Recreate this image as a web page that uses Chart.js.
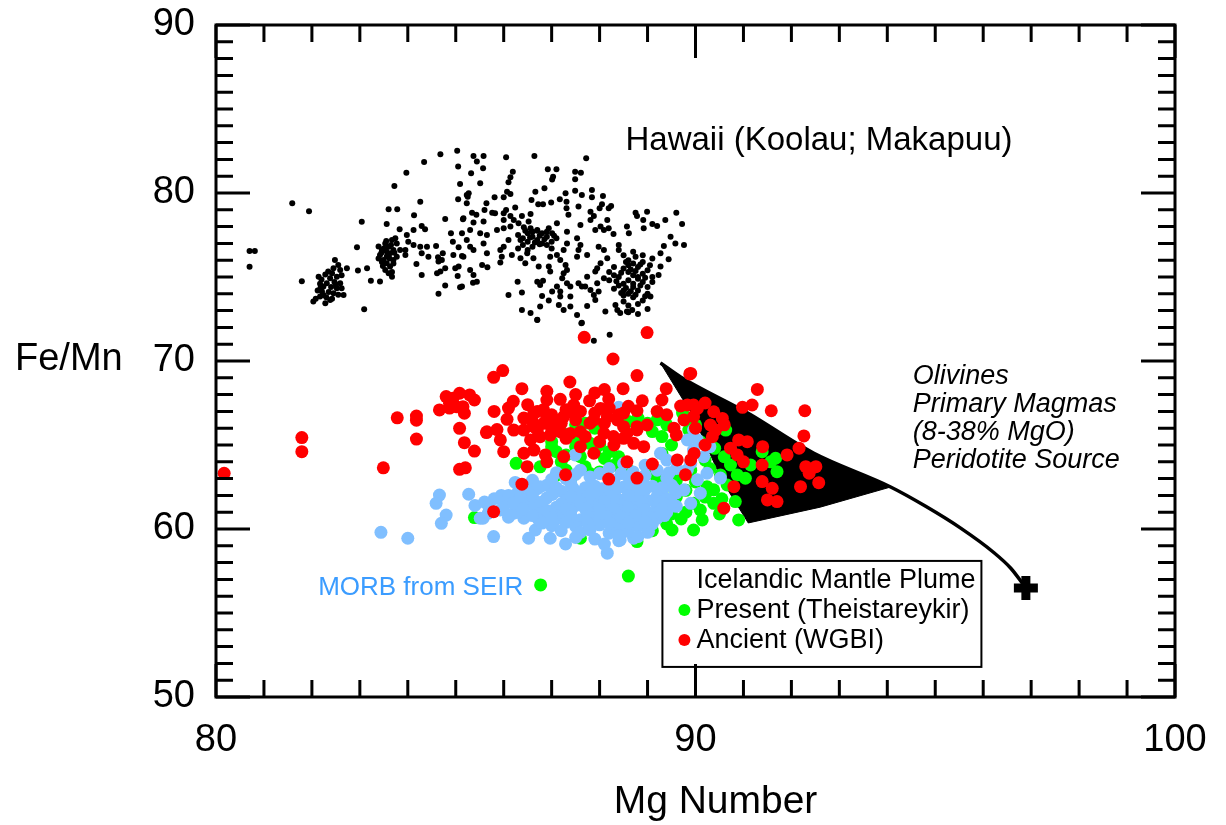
<!DOCTYPE html>
<html>
<head>
<meta charset="utf-8">
<script src="https://cdn.jsdelivr.net/npm/chart.js@4.4.1/dist/chart.umd.min.js"></script>
<style>
  html, body { margin: 0; padding: 0; background: #fff; }
  #wrap { width: 1226px; height: 825px; }
</style>
</head>
<body>
<div id="wrap"><canvas id="chart" width="1226" height="825"></canvas></div>
<script>
// axis ranges / labels
const xRange = [80, 100];
const yRange = [50, 90];
const xTitle = 'Mg Number';
const yTitle = 'Fe/Mn';

// Hawaii (Koolau; Makapuu) olivines  [Mg number, Fe/Mn]
const hawaii = [
  [80.70,76.55],[80.81,76.55],[80.70,75.61],[81.59,79.39],[81.94,78.91],[81.79,74.75],
  [83.04,78.29],[82.94,76.77],[82.96,75.38],[83.15,75.52],[83.09,73.08],[83.23,74.77],[83.42,74.73],[83.67,75.01],
  [83.72,80.42],[83.97,81.21],[84.34,81.84],[84.68,82.30],[85.03,82.52],[85.05,81.57],[85.09,80.54],[85.05,79.63],
  [84.26,79.48],[83.60,79.03],[83.78,79.03],[84.13,78.67],[83.56,78.15],[83.83,77.84],[84.12,77.80],[84.29,78.04],[84.36,77.84],
  [83.98,77.50],[84.01,77.10],[84.12,76.90],[84.26,76.80],[84.40,76.80],[84.29,76.41],[84.43,76.21],[83.95,76.31],[83.95,76.61],
  [84.18,75.77],[84.29,75.12],[84.59,76.85],[84.78,78.45],[84.90,77.60],[84.94,77.10],[85.06,76.77],[84.73,76.41],[84.63,76.17],
  [84.95,76.31],[85.13,76.25],[84.71,76.01],[84.64,75.92],[84.61,75.23],[84.68,75.32],[84.78,75.52],[84.99,75.52],[85.06,75.62],
  [84.78,74.49],[84.64,74.00],[85.09,74.39],[85.04,75.06],[85.15,78.44],[85.23,79.88],[85.23,79.39],
  [82.03,73.54],[82.17,73.84],[82.21,74.14],[82.24,74.44],[82.31,74.63],[82.38,74.93],[82.42,75.23],[82.45,75.52],[82.48,76.01],
  [82.55,75.72],[82.59,75.42],[82.52,75.02],[82.59,74.63],[82.62,74.33],[82.66,73.93],[82.38,73.63],[82.28,73.44],[82.14,75.02],
  [82.34,75.32],[82.24,73.93],[82.45,74.03],[82.52,74.33],[82.73,75.52],[82.12,74.20],[82.17,74.60],[82.40,74.40],[82.47,74.70],
  [82.30,73.80],[82.55,73.95],[82.20,74.85],[82.35,74.10],[82.50,74.55],[82.28,75.15],[82.42,73.70],[82.62,75.10],[82.08,73.70],
  [82.18,74.35],
  [83.39,76.81],[83.46,76.61],[83.53,77.00],[83.60,76.80],[83.67,77.20],[83.74,77.30],[83.77,77.00],[83.70,76.61],[83.63,76.41],
  [83.56,76.21],[83.49,76.01],[83.42,76.31],[83.56,75.82],[83.63,75.62],[83.53,75.42],[83.70,76.01],[83.77,76.21],[83.84,76.61],
  [83.46,75.90],[83.60,75.23],[83.39,76.10],[83.67,75.30],[83.45,76.45],[83.55,76.55],[83.65,76.90],[83.50,76.70],[83.58,76.35],
  [83.72,76.45],[83.62,76.10],[83.48,75.65],[83.70,75.80],[83.55,77.15],
  [85.37,82.20],[85.58,82.20],[85.44,81.87],[85.57,81.47],[86.05,82.13],[86.64,82.20],[87.72,82.07],[85.32,81.18],[85.51,80.58],
  [86.19,81.27],[86.14,80.94],[86.10,80.64],[86.92,81.41],[87.10,81.41],[87.03,80.97],[87.01,80.81],[87.49,81.27],[87.61,81.21],
  [87.49,80.82],[86.85,80.28],[86.66,80.08],[86.07,80.08],[86.14,79.94],[86.00,79.74],[85.81,79.74],[85.64,79.39],[85.25,79.78],
  [85.27,79.98],[86.58,79.58],[86.72,79.33],[86.82,79.33],[86.99,79.43],[87.17,79.63],[87.29,79.98],[87.31,79.48],[87.49,80.14],
  [87.63,79.88],[87.84,80.18],[87.84,79.74],[88.07,79.82],[87.56,79.19],[87.31,79.09],[87.35,78.70],[87.81,78.89],[88.00,79.09],
  [88.05,79.33],[88.19,79.09],[88.24,79.23],[85.60,78.99],[85.76,78.83],[85.82,78.79],[85.34,78.83],[85.43,78.70],[86.00,78.79],
  [86.05,78.99],[86.14,78.63],[86.24,79.13],[86.38,78.63],[86.56,78.75],[85.16,78.50],[85.37,78.24],[85.58,78.30],[86.00,78.39],
  [86.21,78.39],[85.13,77.60],[85.30,77.80],[85.51,77.60],[85.65,77.50],[85.86,77.80],[86.00,77.90],[86.14,78.00],[86.31,78.20],
  [86.42,77.96],[86.52,78.30],[86.56,77.90],[86.70,77.76],[86.94,77.90],[87.11,78.20],[87.01,77.60],[87.32,77.70],[87.60,78.10],
  [87.81,78.39],[87.88,78.63],[88.02,78.00],[88.16,78.39],[88.19,77.90],[87.91,77.80],[88.09,77.80],[88.29,77.56],[87.53,77.30],
  [87.60,76.90],[87.32,77.00],[87.25,76.61],[85.23,77.20],[85.30,76.80],[85.37,76.61],[85.16,76.21],[85.65,76.41],[85.58,77.00],
  [85.93,76.61],[86.00,76.80],[86.10,77.20],[86.17,76.31],[85.96,76.21],[85.93,75.86],[86.35,76.12],[86.49,76.41],[86.62,76.12],
  [86.45,75.82],[86.97,76.21],[87.11,76.31],[87.18,76.01],[86.94,75.62],[87.29,75.72],[87.32,75.42],[87.53,76.21],[87.74,76.31],
  [87.56,76.61],[85.55,75.72],[85.66,75.58],[85.30,75.42],[85.37,75.12],[85.44,74.72],[85.36,74.66],[85.13,74.43],[86.73,75.62],
  [86.97,75.32],[87.25,75.23],[86.29,74.72],[86.38,74.07],[86.10,73.93],[86.70,74.72],[86.76,74.53],[86.82,74.78],[87.22,74.93],
  [87.32,74.63],[87.39,74.43],[87.11,74.43],[87.56,74.63],[87.63,74.43],[87.74,75.02],[87.70,74.43],[87.81,74.23],[86.80,73.87],
  [87.01,74.13],[87.18,74.13],[87.18,73.84],[86.94,73.60],[87.15,73.34],[87.39,73.84],[87.39,73.24],[86.76,73.24],[86.38,73.04],
  [86.56,72.85],[86.70,72.45],[87.25,73.04],[87.53,72.74],[87.63,72.28],[87.74,73.28],[87.91,73.63],[87.88,73.93],[87.98,74.13],
  [87.95,74.63],[88.09,74.93],[87.91,75.32],[87.95,75.52],[88.02,75.82],[88.16,76.12],[88.09,76.61],[87.98,76.80],[88.12,72.94],
  [88.75,78.83],[88.78,78.63],[88.99,78.89],[88.91,78.39],[88.92,77.90],[89.10,78.15],[89.20,78.04],[88.57,78.00],[88.61,77.60],
  [89.37,78.39],[89.60,78.83],[89.72,78.15],[89.48,77.40],[89.58,77.00],[89.76,76.90],[89.34,76.85],[89.27,76.41],[89.44,76.06],
  [89.27,75.62],[89.23,75.12],[89.06,73.84],[88.50,73.54],[88.68,73.04],[88.57,72.94],[88.43,72.85],[88.37,73.04],[88.33,73.34],
  [86.70,72.44],[87.62,72.24],[87.88,71.20],[88.21,71.56],
  [88.40,76.60],[88.50,76.30],[88.60,76.00],[88.70,75.80],[88.80,75.60],[88.50,75.50],[88.60,75.30],[88.70,75.10],[88.80,74.90],
  [88.90,74.70],[88.60,74.80],[88.50,74.60],[88.70,74.40],[88.80,74.20],[88.60,74.00],[88.70,73.80],[88.90,73.60],[88.50,73.90],
  [88.40,75.00],[88.30,75.60],[88.90,75.90],[89.00,75.40],[89.10,75.00],[89.00,74.40],[88.80,73.40],[88.60,73.30],[88.90,76.30],
  [88.40,76.90],[88.30,74.30],[88.60,72.90],[88.80,72.80],[89.00,73.10],[88.50,74.20],[88.70,76.50],[89.10,76.10],[88.30,75.10],
  [88.90,75.20],[88.60,75.70],[88.80,75.00],[88.70,74.60],[89.00,74.00],[89.10,74.70],[88.40,74.50],[88.20,75.30],[88.20,74.80],
  [88.55,74.35],[88.75,73.95],[88.85,74.50],[88.65,75.45],[88.45,75.25],[88.95,74.95],[88.75,75.35],[88.55,75.90],[88.85,75.75],
  [88.35,74.75],[88.65,74.15],[88.95,73.85],[88.45,74.05],[89.05,75.70],[88.75,76.20],
  [86.30,77.50],[86.40,77.30],[86.50,77.10],[86.60,77.40],[86.70,77.20],[86.80,77.00],[86.90,76.90],[86.60,76.80],[86.50,76.60],
  [86.80,77.60],[86.70,77.80],[86.90,77.40],[87.00,77.10],[86.40,76.90],[86.30,76.70],[87.00,76.70],[86.60,77.70],[86.50,77.60],
  [86.90,77.70],[87.10,77.30],[86.35,77.20],[86.55,77.35],[86.75,77.45],[86.65,77.05],[86.85,77.25],[87.05,77.45],[86.45,77.75],
  [86.75,76.95]
];

// Icelandic plume, present (Theistareykir)
const present = [
  [86.26,63.91],[86.76,63.70],[85.39,60.68],[86.77,56.67],[88.60,57.20],[88.78,59.25],[87.60,59.45],[89.51,59.94],[89.96,59.94],
  [90.14,60.54],[90.90,60.54],[90.63,65.89],[91.39,64.60],[91.67,64.21],[91.70,63.41],[91.57,64.00],[91.15,63.81],[91.04,63.02],
  [90.83,61.63],[90.55,61.80],[89.83,66.58],[89.86,65.89],[89.73,66.90],[90.00,66.20],[90.38,62.33],[90.24,62.52],[90.10,61.13],
  [89.96,61.53],[90.38,61.53],[90.73,63.81],[90.52,63.22],[90.66,62.62],[90.87,63.22],
  [87.00,65.20],[87.10,64.60],[87.20,64.00],[87.30,63.50],[87.40,65.50],[87.50,64.90],[87.60,64.30],[87.70,63.70],[87.80,65.10],
  [87.90,64.60],[87.20,65.80],[87.50,66.20],[87.70,66.30],[87.90,66.00],[87.10,63.20],[87.40,63.00],[88.10,64.20],[88.30,63.80],
  [88.00,63.40],[88.60,66.40],[88.80,66.60],[89.00,66.30],[89.20,66.50],[89.40,66.20],[89.10,65.80],[89.30,65.50],
  [89.40,61.50],[89.60,61.90],[89.80,62.30],[89.50,60.90],[89.70,60.60],[90.00,62.80],[89.90,63.50],[90.20,64.10],[90.40,64.80],
  [90.10,65.20],[89.60,62.90],[89.30,62.20],[89.20,60.80],[88.90,60.30],[89.10,59.90],
  [87.30,64.40],[87.00,64.90],[87.60,65.30],[88.00,65.00],[88.20,64.60],[88.40,64.30],[87.80,63.30],[88.60,63.50],[89.00,63.30],
  [89.30,64.50],[89.50,65.00],[89.20,63.00],[90.30,63.60],[90.60,64.30],[90.20,61.90],[89.80,61.00],[89.40,60.30],[90.50,60.90]
];

// Icelandic plume, ancient (WGBI)
const ancient = [
  [80.17,63.32],[81.79,65.44],[81.79,64.60],[83.49,63.64],[83.78,66.62],[84.18,66.72],[84.18,66.48],[84.18,65.35],
  [84.80,67.88],[84.94,67.78],[85.08,68.08],[85.29,67.98],[85.39,67.68],[84.87,67.48],[85.01,67.28],[85.15,67.28],[84.66,67.09],
  [84.87,67.20],[85.18,66.89],[85.08,65.99],[85.18,65.14],[85.39,64.64],[85.08,63.55],[85.20,63.64],[85.64,65.74],
  [87.68,71.41],[88.99,71.69],[88.28,70.12],[85.79,69.03],[85.98,69.43],[86.38,68.35],[87.38,68.75],[88.78,69.13],[89.88,69.23],
  [88.49,68.35],[89.39,68.35],[89.30,67.68],[86.90,67.68],[87.18,67.72],[87.46,67.38],[87.79,67.63],[88.19,67.74],[88.89,67.63],
  [88.02,67.18],[88.78,67.04],[89.69,67.32],[89.96,67.38],[86.07,66.53],[85.65,65.79],[85.86,65.92],[86.21,65.89],[85.93,65.30],
  [86.00,64.60],[86.42,66.60],[86.63,66.90],[86.83,67.10],[86.42,65.89],[86.63,66.09],[86.83,66.29],[87.04,66.49],[87.25,66.69],
  [87.46,66.90],[86.56,65.30],[86.76,65.49],[86.97,65.59],[87.18,65.79],[87.39,65.69],[87.60,65.79],[86.42,64.51],[86.63,64.70],
  [86.87,64.41],[86.49,63.71],[86.90,64.00],[87.88,66.49],[88.16,66.69],[88.37,66.49],[88.50,66.09],[88.09,65.70],[88.29,65.50],
  [88.57,65.70],[88.78,65.90],[88.71,65.10],[88.92,64.90],[87.88,64.51],[88.57,64.00],[89.10,63.87],[87.29,63.23],[88.19,62.97],
  [88.78,63.03],[86.38,62.67],[85.79,61.03],[89.62,64.11],[89.90,64.11],[89.79,63.23],[89.55,66.00],[89.76,66.49],[89.96,66.69],
  [88.78,66.09],[88.99,66.19],[87.25,64.31],[87.60,64.90],[89.90,69.26],[91.29,68.31],[90.98,67.24],[91.18,67.38],[91.58,67.04],
  [92.28,67.04],[89.83,67.38],[90.04,67.18],[90.38,66.98],[90.56,66.58],[90.31,66.19],[90.35,65.49],[90.42,65.89],[90.90,65.30],
  [91.08,65.20],[90.73,64.81],[90.87,64.41],[92.26,65.54],[91.91,64.41],[92.16,64.81],[92.30,63.71],[92.51,63.71],[92.37,63.32],
  [92.57,62.76],[92.19,62.52],[91.39,63.81],[91.39,62.82],[91.60,62.42],[91.50,61.73],[91.70,61.63],[90.80,62.52],[90.59,61.24],
  [89.97,64.50],
  [86.50,67.40],[86.70,67.00],[87.00,66.80],[87.30,67.10],[87.60,67.00],[87.90,66.90],[88.20,67.20],[88.50,66.90],[88.60,67.30],
  [86.60,66.40],[86.90,66.60],[87.20,66.30],[87.50,66.50],[87.80,66.30],[88.10,66.30],[88.40,66.80],[86.70,65.90],[87.00,66.00],
  [87.30,65.40],[87.70,65.50],[88.00,65.20],[88.30,65.00],[88.50,65.40],[87.50,68.00],[87.90,68.10],[88.10,68.30],[86.90,68.20],
  [86.20,67.60],[85.80,67.00],[86.10,67.20],[89.40,66.80],[89.60,65.60],[90.00,66.00],[90.20,67.50],[89.20,67.00],[90.60,66.20],
  [90.20,65.00],[91.40,64.90],[91.00,64.00]
];

// MORB from SEIR
const morb = [
  [84.66,62.02],[84.59,61.53],[84.80,60.83],[84.70,60.34],[85.27,62.07],[83.44,59.80],[84.00,59.45],[85.57,60.64],[88.40,67.24],
  [86.24,62.77],[85.79,59.55],[86.52,59.45],[86.97,59.45],[87.29,59.11],[88.16,58.56],[88.43,59.35],[88.71,59.45],[89.02,59.85],
  [87.49,64.41],[85.51,60.64],[85.68,60.94],[85.93,61.13],[86.21,60.94],[86.66,59.94],[86.42,60.64],[86.73,60.54],[86.90,60.94],
  [86.76,62.52],[86.56,62.13],[87.04,62.13],[89.96,65.89],[89.83,65.30],[89.27,64.51],[90.04,65.30],[89.96,64.70],[90.17,64.30],
  [90.52,63.03],[90.24,63.32],[89.83,63.52],[90.04,62.93],[89.76,62.33],[90.10,62.13],[89.90,61.53],
  [87.60,63.50],[88.20,63.60],[88.70,63.40],[89.20,63.50],[87.30,63.00],[87.80,63.10],[88.30,62.90],[88.60,63.10],[88.90,62.95],
  [89.40,63.05],[86.90,62.60],[87.40,62.70],[87.90,62.55],[88.20,62.65],[88.50,62.50],[88.80,62.70],[89.10,62.55],[89.50,62.60],
  [86.30,62.20],[87.20,62.25],[87.60,62.10],[87.90,62.30],[88.30,62.15],[88.60,62.25],[88.90,62.10],[89.30,62.20],[89.60,62.15],
  [85.80,61.80],[86.40,61.75],[86.90,61.85],[87.30,61.70],[87.70,61.80],[88.00,61.90],[88.40,61.75],[88.70,61.85],[89.00,61.70],
  [89.40,61.80],[85.40,61.40],[86.00,61.35],[86.60,61.45],[87.10,61.30],[87.50,61.40],[87.90,61.50],[88.20,61.35],[88.50,61.45],
  [88.80,61.30],[89.20,61.40],[89.60,61.35],[86.30,61.00],[87.00,60.95],[87.40,61.05],[87.80,60.90],[88.10,61.00],[88.40,60.95],
  [88.70,61.10],[89.10,60.90],[89.40,61.00],[87.10,60.60],[87.60,60.55],[87.90,60.65],[88.30,60.50],[88.60,60.60],[88.90,60.55],
  [89.20,60.65],[87.00,60.20],[87.50,60.15],[88.00,60.25],[88.40,60.10],[88.80,60.20],[89.10,60.30],[87.60,59.80],[88.20,59.75],
  [88.60,59.85],[89.00,59.80],[87.90,59.40],[88.40,59.30],
  [88.00,62.00],[88.45,61.60],[88.15,61.15],[87.75,61.55],[88.85,62.35],[87.45,62.40],[88.55,60.80],[87.25,60.80],[86.70,61.20],
  [86.10,60.70],[85.95,62.00],[86.50,62.50],[87.10,63.35],[88.95,63.80],[89.40,64.10],[89.60,63.60],[88.50,63.90],[89.90,63.90],
  [90.30,64.90],
  [86.60,62.90],[87.00,62.95],[87.50,63.25],[88.00,63.30],[88.45,63.30],[88.95,63.20],[89.45,63.35],[86.70,62.40],[87.10,62.45],
  [87.70,62.45],[88.05,62.40],[88.35,62.40],[88.65,62.45],[88.95,62.35],[89.30,62.45],[89.55,62.40],[86.10,62.00],[86.60,61.95],
  [87.00,62.05],[87.40,61.95],[87.80,62.05],[88.20,61.95],[88.60,62.00],[89.20,61.95],[89.50,61.55],[85.60,61.60],[86.20,61.55],
  [86.80,61.60],[87.20,61.50],[87.60,61.60],[88.10,61.65],[88.35,61.45],[88.90,61.55],[89.30,61.60],[85.70,61.20],[86.40,61.20],
  [86.90,61.10],[87.30,61.20],[87.70,61.20],[88.00,61.20],[88.30,61.20],[88.60,61.20],[88.95,61.15],[89.30,61.20],[86.60,60.80],
  [87.00,60.70],[87.40,60.75],[87.75,60.75],[88.15,60.75],[88.45,60.70],[88.75,60.80],[89.05,60.70],[89.35,60.80],[86.80,60.35],
  [87.30,60.40],[87.75,60.35],[88.20,60.35],[88.60,60.35],[88.95,60.40],[87.20,59.90],[87.80,59.95],[88.40,59.60],[88.80,59.55],
  [88.10,59.10],[87.50,59.50]
];

// model: olivines from primary magmas (8-38% MgO), peridotite source
const modelField = [
  [89.27,69.88],[89.69,69.05],[91.09,66.90],[92.46,64.52],[94.07,62.50],
  [92.60,61.30],[91.10,60.36],[90.55,62.90],[89.96,66.67],[89.27,69.88]
];
const modelCurve = [
  [89.27,69.88],[89.69,69.05],[91.09,66.90],[92.46,64.52],[94.07,62.50],
  [94.80,61.35],[95.53,60.05],[96.22,58.60],[96.58,57.65],[96.89,56.49]
];
const sourcePoint = [[96.89,56.49]];

const toXY = arr => arr.map(p => ({ x: p[0], y: p[1] }));
const FONT = "'Liberation Sans', Arial, Helvetica, sans-serif";
Chart.defaults.font.family = FONT;
Chart.defaults.color = '#000';

// frame with inward ticks on all four sides
const frameTicks = {
  id: 'frameTicks',
  afterDraw(chart) {
    const { ctx, chartArea: a, scales: { x, y } } = chart;
    ctx.save();
    ctx.strokeStyle = '#000';
    ctx.lineWidth = 3;
    ctx.beginPath();
    for (let v = xRange[0]; v <= xRange[1]; v++) {
      const p = x.getPixelForValue(v);
      const len = v % 10 === 0 ? 33 : 17;
      ctx.moveTo(p, a.bottom); ctx.lineTo(p, a.bottom - len);
      ctx.moveTo(p, a.top); ctx.lineTo(p, a.top + len);
    }
    for (let v = yRange[0]; v <= yRange[1]; v++) {
      const p = y.getPixelForValue(v);
      const len = v % 10 === 0 ? 34 : 17;
      ctx.moveTo(a.left, p); ctx.lineTo(a.left + len, p);
      ctx.moveTo(a.right, p); ctx.lineTo(a.right - len, p);
    }
    ctx.stroke();
    ctx.strokeRect(a.left, a.top, a.right - a.left, a.bottom - a.top);
    ctx.restore();
  }
};

// labels, annotations and the legend box
const annotations = {
  id: 'annotations',
  afterDatasetsDraw(chart) {
    const { ctx, chartArea: a, scales: { x, y } } = chart;
    ctx.save();
    ctx.fillStyle = '#000';
    ctx.textBaseline = 'alphabetic';
    ctx.textAlign = 'left';

    ctx.font = '38px ' + FONT;
    ctx.fillText(yTitle, 15, 370);
    ctx.textAlign = 'center';
    ctx.font = '39px ' + FONT;
    ctx.fillText(xTitle, (a.left + a.right) / 2 + 20, 813);

    ctx.textAlign = 'left';
    ctx.font = '33px ' + FONT;
    ctx.fillText('Hawaii (Koolau; Makapuu)', x.getPixelForValue(88.54), y.getPixelForValue(82.56));

    ctx.font = 'italic 27px ' + FONT;
    const ol = ['Olivines', 'Primary Magmas', '(8-38% MgO)', 'Peridotite Source'];
    const ox = x.getPixelForValue(94.53), oy = y.getPixelForValue(68.63);
    ol.forEach((t, i) => ctx.fillText(t, ox, oy + i * 28));

    ctx.font = '26px ' + FONT;
    ctx.fillStyle = '#3b9cff';
    ctx.fillText('MORB from SEIR', x.getPixelForValue(82.13), y.getPixelForValue(56.07));

    // legend
    const bx = x.getPixelForValue(89.31), by = y.getPixelForValue(58.1);
    const bw = 319, bh = 106;
    ctx.fillStyle = '#fff';
    ctx.fillRect(bx, by, bw, bh);
    ctx.strokeStyle = '#000';
    ctx.lineWidth = 2;
    ctx.strokeRect(bx, by, bw, bh);
    ctx.fillStyle = '#000';
    ctx.font = '27px ' + FONT;
    ctx.fillText('Icelandic Mantle Plume', bx + 34, by + 27);
    ctx.fillText('Present (Theistareykir)', bx + 34, by + 57);
    ctx.fillText('Ancient (WGBI)', bx + 34, by + 87);
    ctx.fillStyle = '#00ff00';
    ctx.beginPath(); ctx.arc(bx + 22, by + 49, 6, 0, Math.PI * 2); ctx.fill();
    ctx.fillStyle = '#ff0000';
    ctx.beginPath(); ctx.arc(bx + 22, by + 79, 6, 0, Math.PI * 2); ctx.fill();
    ctx.restore();
  }
};

new Chart(document.getElementById('chart'), {
  type: 'scatter',
  data: {
    datasets: [
      { label: 'Hawaii', data: toXY(hawaii), order: 0,
        pointRadius: 3, pointBackgroundColor: '#000', pointBorderWidth: 0 },
      { label: 'Source', data: toXY(sourcePoint), order: 0,
        pointStyle: 'cross', pointRadius: 12, pointBorderWidth: 9, pointBorderColor: '#000' },
      { label: 'Ancient (WGBI)', data: toXY(ancient), order: 1,
        pointRadius: 6.5, pointBackgroundColor: '#ff0000', pointBorderWidth: 0 },
      { label: 'MORB from SEIR', data: toXY(morb), order: 2,
        pointRadius: 6.5, pointBackgroundColor: '#80bfff', pointBorderWidth: 0 },
      { label: 'Present (Theistareykir)', data: toXY(present), order: 3,
        pointRadius: 6.5, pointBackgroundColor: '#00ff00', pointBorderWidth: 0 },
      { type: 'line', label: 'curve', data: toXY(modelCurve), order: 4,
        borderColor: '#000', borderWidth: 3.5, pointRadius: 0, fill: false,
        cubicInterpolationMode: 'monotone' },
      { type: 'line', label: 'field', data: toXY(modelField), order: 5,
        borderColor: '#000', borderWidth: 1, backgroundColor: '#000', pointRadius: 0,
        fill: 'shape', tension: 0 }
    ]
  },
  options: {
    responsive: false,
    animation: false,
    devicePixelRatio: 1,
    events: [],
    layout: { padding: { left: 0, right: 51, top: 25, bottom: 0 } },
    plugins: { legend: { display: false }, tooltip: { enabled: false } },
    scales: {
      x: {
        type: 'linear', min: xRange[0], max: xRange[1],
        grid: { display: false, drawTicks: false },
        border: { display: false },
        ticks: { stepSize: 10, padding: 21, font: { size: 38 }, color: '#000', maxRotation: 0 },
        afterFit: s => { s.height = 128; s.paddingLeft = 0; s.paddingRight = 0; }
      },
      y: {
        type: 'linear', min: yRange[0], max: yRange[1],
        grid: { display: false, drawTicks: false },
        border: { display: false },
        ticks: { stepSize: 10, padding: 21, font: { size: 38 }, color: '#000' },
        afterFit: s => { s.width = 216; s.paddingTop = 0; s.paddingBottom = 0; }
      }
    }
  },
  plugins: [annotations, frameTicks]
});
</script>
</body>
</html>
